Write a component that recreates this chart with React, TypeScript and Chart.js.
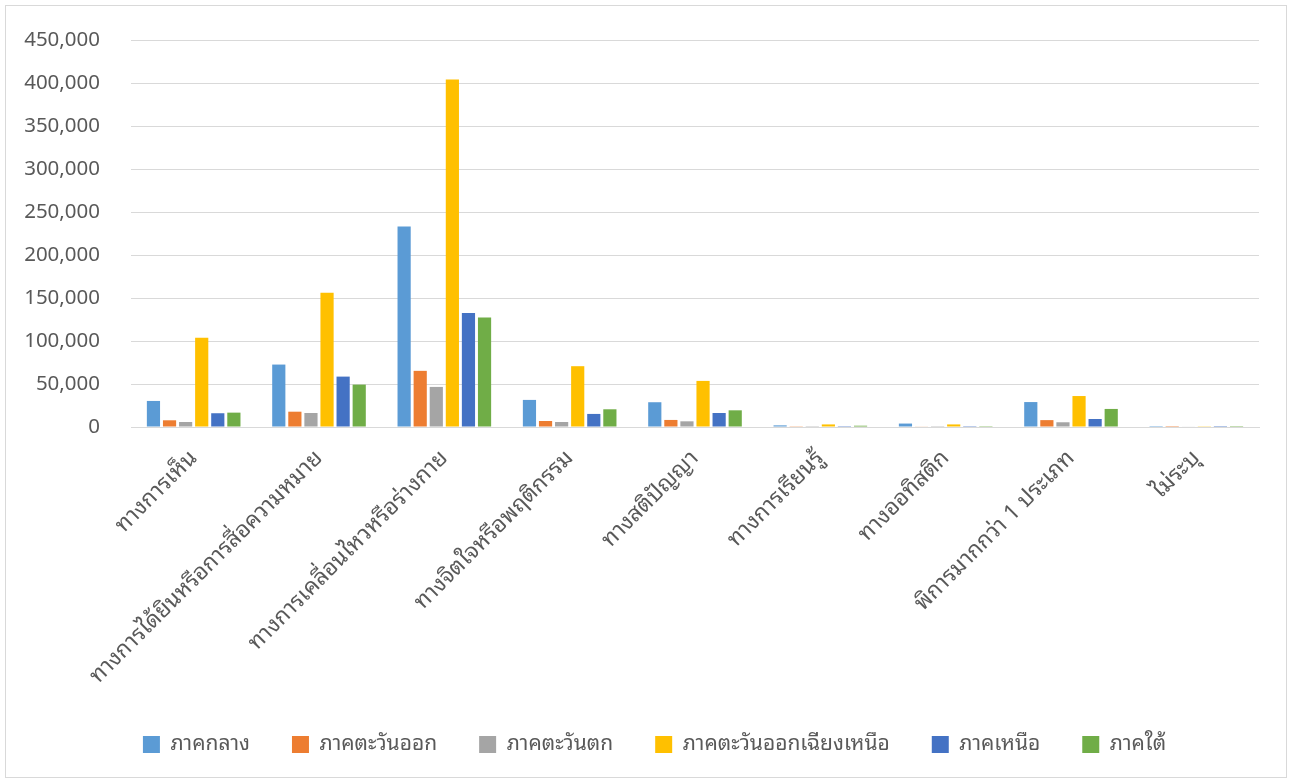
import React, { useEffect, useRef } from "react";
import { Chart, registerables } from "chart.js";

Chart.register(...registerables);

const categories = [
  "ทางการเห็น",
  "ทางการได้ยินหรือการสื่อความหมาย",
  "ทางการเคลื่อนไหวหรือร่างกาย",
  "ทางจิตใจหรือพฤติกรรม",
  "ทางสติปัญญา",
  "ทางการเรียนรู้",
  "ทางออทิสติก",
  "พิการมากกว่า 1 ประเภท",
  "ไม่ระบุ",
];

const seriesNames = [
  "ภาคกลาง",
  "ภาคตะวันออก",
  "ภาคตะวันตก",
  "ภาคตะวันออกเฉียงเหนือ",
  "ภาคเหนือ",
  "ภาคใต้",
];

const central = [30300, 72600, 233000, 31500, 28800, 1900, 4000, 29000, 100];
const east = [7800, 17800, 65300, 7000, 8200, 300, 700, 8000, 100];
const west = [5800, 16300, 46600, 5800, 6600, 200, 200, 5500, 500];
const northeast = [103700, 156000, 404000, 70700, 53600, 3000, 3000, 36000, 300];
const north = [16000, 58600, 132500, 15200, 16300, 1000, 1000, 9300, 100];
const south = [16700, 49300, 127400, 20600, 19400, 1500, 1000, 21000, 100];

const seriesValues = [central, east, west, northeast, north, south];
const seriesColors = ["#5B9BD5", "#ED7D31", "#A5A5A5", "#FFC000", "#4472C4", "#70AD47"];

const yMax = 450000;
const yStep = 50000;

const THAI = "'Noto Sans Thai Looped', 'Loma', 'Waree', 'Garuda', 'Tlwg Typo', 'Noto Sans Thai', 'Noto Sans', sans-serif";
const NUM = "'Noto Sans', 'DejaVu Sans', sans-serif";
const TEXT = "#595959";

const legendShift = {
  id: "legendShift",
  afterLayout(chart: any) {
    const l = chart.legend;
    if (l) {
      l.left += 22;
      l.right += 22;
    }
  },
};

export default function App() {
  const ref = useRef<HTMLCanvasElement | null>(null);

  useEffect(() => {
    if (!ref.current) return;
    const chart = new Chart(ref.current, {
      type: "bar",
      data: {
        labels: categories,
        datasets: seriesNames.map((name, i) => ({
          label: name,
          data: seriesValues[i],
          backgroundColor: seriesColors[i],
          borderWidth: 0,
          categoryPercentage: 0.77,
          barPercentage: 0.82,
        })),
      },
      plugins: [legendShift],
      options: {
        responsive: false,
        animation: false,
        maintainAspectRatio: false,
        layout: { padding: { top: 34, right: 27, bottom: 12, left: 0 } },
        plugins: {
          tooltip: { enabled: false },
          legend: {
            position: "bottom",
            labels: {
              color: TEXT,
              font: { family: THAI, size: 21 },
              boxWidth: 17,
              boxHeight: 17,
              padding: 42,
            },
          },
        },
        scales: {
          x: {
            grid: { display: false },
            border: { color: "#D9D9D9", width: 1 },
            ticks: {
              color: TEXT,
              font: { family: THAI, size: 22.5 },
              maxRotation: 45,
              minRotation: 45,
              autoSkip: false,
              padding: 10,
            },
            afterFit: (s: any) => {
              s.height = 265;
            },
          },
          y: {
            min: 0,
            max: yMax,
            grid: {
              color: "#D9D9D9",
              lineWidth: 1,
              drawTicks: true,
              tickLength: 31,
              tickColor: "rgba(0,0,0,0)",
            },
            border: { display: false },
            ticks: {
              stepSize: yStep,
              color: TEXT,
              font: { family: NUM, size: 20.5 },
              padding: 0,
              callback: (v: any) => Number(v).toLocaleString("en-US"),
            },
            afterFit: (s: any) => {
              s.width = 125;
            },
          },
        },
      },
    });
    return () => chart.destroy();
  }, []);

  return (
    <div
      style={{
        position: "absolute",
        left: 5,
        top: 5,
        width: 1280,
        height: 771,
        border: "1px solid #D9D9D9",
        background: "#fff",
      }}
    >
      <canvas ref={ref} width={1280} height={771} style={{ display: "block" }} />
    </div>
  );
}
